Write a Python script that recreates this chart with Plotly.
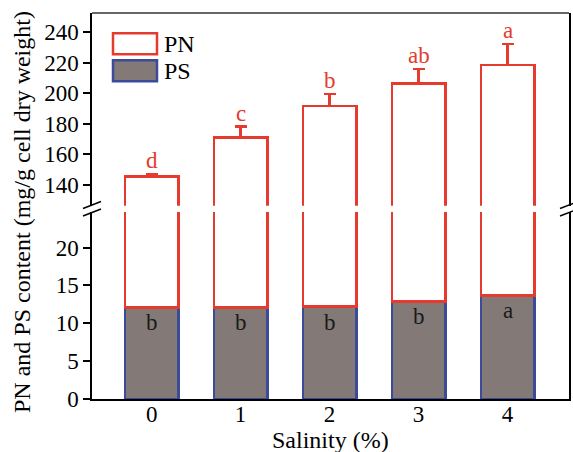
import plotly.graph_objects as go

salinity = ["0", "1", "2", "3", "4"]
pn_total = [145.5, 171.0, 191.5, 206.3, 218.3]
pn_err = [1.7, 7.2, 8.1, 9.4, 13.7]
ps_vals = [12.1, 12.1, 12.2, 12.9, 13.7]
ps_err = [0.35, 0.6, 0.2, 0.3, 0.5]
pn_letters = ["d", "c", "b", "ab", "a"]
ps_letters = ["b", "b", "b", "b", "a"]
lower_ticks = [0, 5, 10, 15, 20]
upper_ticks = [140, 160, 180, 200, 220, 240]

RED = "#e63a2e"
BLUE = "#3c4a9a"
GRAY = "#837977"
FONT = "Liberation Serif"

xs = list(range(len(salinity)))
pn_rest = [t - p for t, p in zip(pn_total, ps_vals)]

fig = go.Figure()
# lower panel: PS + PN stacked
fig.add_trace(go.Bar(x=xs, y=ps_vals, width=0.6, marker=dict(color=GRAY, line=dict(color=BLUE, width=2.5)),
                     error_y=dict(type="data", array=ps_err, arrayminus=[0]*5, symmetric=False,
                                  color=BLUE, thickness=2.5, width=6),
                     xaxis="x", yaxis="y", showlegend=False))
fig.add_trace(go.Bar(x=xs, y=pn_rest, width=0.6, marker=dict(color="white", line=dict(color=RED, width=2.5)),
                     xaxis="x", yaxis="y", showlegend=False))
# upper panel: PN total
fig.add_trace(go.Bar(x=xs, y=pn_total, width=0.6, marker=dict(color="white", line=dict(color=RED, width=2.5)),
                     error_y=dict(type="data", array=pn_err, arrayminus=[0]*5, symmetric=False,
                                  color=RED, thickness=2.5, width=6),
                     xaxis="x", yaxis="y2", showlegend=False))

# letters
for i in xs:
    fig.add_annotation(x=i, y=pn_total[i] + pn_err[i], xref="x", yref="y2", text=pn_letters[i],
                       showarrow=False, yanchor="bottom", yshift=-1,
                       font=dict(family=FONT, size=23, color=RED))
    fig.add_annotation(x=i, y=ps_vals[i], xref="x", yref="y", text=ps_letters[i],
                       showarrow=False, yanchor="top", yshift=-1,
                       font=dict(family=FONT, size=23, color="#1a1a1a"))

L, R, T, B = 92, 569, 12.7, 399.3
W, H = R - L, B - T
def px(x): return (x - L) / W
def py(y): return (B - y) / H

lower_top = py(212)
upper_bot = py(205.7)

axis_font = dict(family=FONT, size=23, color="black")
fig.update_layout(
    template="none",
    width=573, height=452,
    margin=dict(l=L, r=573 - R, t=T, b=452 - B, pad=0, autoexpand=False),
    paper_bgcolor="white", plot_bgcolor="white",
    barmode="stack", bargap=0.4,
    xaxis=dict(range=[-0.67, 4.69], tickvals=xs, ticktext=salinity, showline=True,
               linecolor="black", linewidth=1.5, ticks="", tickfont=axis_font, ticklabelstandoff=-6,
               showgrid=False, zeroline=False, anchor="y", automargin=False),
    yaxis=dict(domain=[0, lower_top], range=[0, 24.7], tickvals=lower_ticks, showline=True,
               linecolor="black", linewidth=1.5, mirror=True, ticks="outside", ticklen=7,
               tickwidth=1.5, tickcolor="black", tickfont=axis_font, showgrid=False, zeroline=False,
               automargin=False),
    yaxis2=dict(domain=[upper_bot, 1], range=[126.5, 252.4], tickvals=upper_ticks, showline=True,
                linecolor="black", linewidth=1.5, mirror=True, ticks="outside", ticklen=7,
                tickwidth=1.5, tickcolor="black", tickfont=axis_font, showgrid=False, zeroline=False,
                anchor="x", automargin=False),
)

shapes = []
# top frame line
shapes.append(dict(type="line", xref="paper", yref="paper", x0=0, x1=1, y0=1, y1=1,
                   line=dict(color="#333333", width=1.5)))
# break marks
for xc in (L, R):
    for yc in (205.0, 212.5):
        shapes.append(dict(type="line", xref="paper", yref="paper",
                           x0=px(xc - 9), y0=py(yc + 3.5), x1=px(xc + 9), y1=py(yc - 3.5),
                           line=dict(color="black", width=1.5)))
# legend boxes
shapes.append(dict(type="rect", xref="paper", yref="paper", x0=px(113), x1=px(157), y0=py(54), y1=py(33),
                   fillcolor="white", line=dict(color=RED, width=2.5)))
shapes.append(dict(type="rect", xref="paper", yref="paper", x0=px(113), x1=px(157), y0=py(81), y1=py(60),
                   fillcolor=GRAY, line=dict(color=BLUE, width=2.5)))
fig.update_layout(shapes=shapes)

fig.add_annotation(x=px(162), y=py(43.5), xref="paper", yref="paper", text="PN", showarrow=False,
                   xanchor="left", yanchor="middle", font=dict(family=FONT, size=24, color="black"))
fig.add_annotation(x=px(162), y=py(70.5), xref="paper", yref="paper", text="PS", showarrow=False,
                   xanchor="left", yanchor="middle", font=dict(family=FONT, size=24, color="black"))
# y title spanning both panels
fig.add_annotation(x=px(22), y=py(212), xref="paper", yref="paper",
                   text="PN and PS content (mg/g cell dry weight)", showarrow=False, textangle=-90,
                   xanchor="center", yanchor="middle", font=dict(family=FONT, size=24, color="black"))
# x title
fig.add_annotation(x=0.5, y=py(440), xref="paper", yref="paper", text="Salinity (%)", showarrow=False,
                   xanchor="center", yanchor="middle", font=dict(family=FONT, size=24, color="black"))

fig.write_html("out.html", config={"displayModeBar": False},
               post_script="document.body.style.margin='0';document.body.style.overflow='hidden';")
